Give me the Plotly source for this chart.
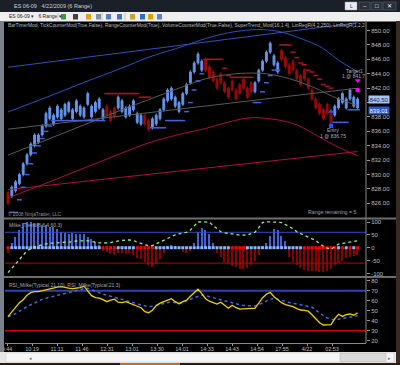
import plotly.graph_objects as go

W, H = 400, 365

# ---------------- data ----------------
opens = [827.5, 827.0, 827.75, 828.75, 830.0, 831.5, 832.75, 834.0, 834.5, 835.5,
         836.75, 837.75, 837.0, 838.0, 837.75, 838.25, 838.75, 837.75, 838.75, 838.25,
         838.0, 839.75, 838.0, 838.75, 839.25, 837.75, 839.5, 838.75, 839.25, 839.25,
         838.75, 838.0, 838.25, 839.0, 837.25, 837.0, 838.25, 837.5, 836.5, 837.0,
         837.75, 839.0, 840.25, 840.5, 839.5, 838.75, 839.75, 841.25, 842.75, 844.25,
         845.5, 844.5, 846.0, 845.0, 844.25, 843.25, 844.0, 842.75, 842.0, 843.0,
         841.75, 842.5, 843.25, 842.0, 842.75, 841.5, 843.0, 844.5, 845.75, 847.0,
         845.25, 844.25, 847.25, 846.25, 845.25, 845.75, 844.5, 843.75, 844.5, 843.25,
         841.75, 840.5, 839.75, 839.0, 839.75, 838.5, 838.25, 839.25, 840.0, 839.25,
         840.5, 839.5, 839.25]
highs = [827.75, 828.5, 829.25, 830.25, 831.75, 833.0, 834.5, 835.75, 835.75, 837.0,
         838.75, 839.5, 838.5, 839.75, 839.25, 840.0, 840.25, 839.25, 840.5, 839.75,
         839.5, 841.5, 839.75, 840.25, 840.75, 839.25, 839.75, 839.0, 839.5, 841.0,
         840.5, 839.5, 839.75, 840.5, 838.75, 838.5, 838.5, 837.75, 838.0, 838.5,
         839.25, 840.75, 842.0, 842.25, 841.0, 840.25, 841.5, 842.75, 844.5, 845.75,
         847.0, 846.0, 846.25, 845.25, 844.5, 843.5, 844.25, 843.0, 842.25, 843.25,
         842.0, 842.75, 843.5, 842.25, 843.0, 843.0, 844.75, 846.0, 847.25, 848.5,
         846.75, 845.75, 847.5, 846.5, 845.5, 846.0, 844.75, 844.0, 844.75, 843.5,
         842.0, 840.75, 840.0, 839.25, 840.0, 838.75, 839.75, 840.75, 841.5, 840.75,
         842.0, 841.0, 840.75]
lows = [825.75, 826.75, 827.5, 828.5, 829.75, 831.25, 832.5, 833.75, 834.25, 835.25,
        836.5, 837.5, 836.75, 837.75, 837.5, 838.0, 838.5, 837.5, 838.5, 838.0,
        837.75, 839.5, 837.75, 838.5, 839.0, 837.5, 838.0, 837.25, 837.75, 839.0,
        838.5, 837.75, 838.0, 838.75, 837.0, 836.75, 836.75, 836.0, 836.25, 836.75,
        837.5, 838.75, 840.0, 840.25, 839.25, 838.5, 839.5, 841.0, 842.5, 844.0,
        845.25, 844.25, 844.25, 843.25, 842.75, 841.75, 842.5, 841.25, 840.5, 841.5,
        840.25, 841.0, 841.75, 840.5, 841.25, 841.25, 842.75, 844.25, 845.5, 846.75,
        845.0, 844.0, 845.75, 844.75, 843.75, 844.25, 843.0, 842.25, 843.0, 841.75,
        840.25, 839.0, 838.25, 837.5, 838.25, 836.75, 838.0, 839.0, 839.75, 839.0,
        840.25, 839.25, 839.0]
closes = [826.0, 828.25, 829.0, 830.0, 831.5, 832.75, 834.25, 835.5, 835.5, 836.75,
          838.5, 839.25, 838.25, 839.5, 839.0, 839.75, 840.0, 839.0, 840.25, 839.5,
          839.25, 841.25, 839.5, 840.0, 840.5, 839.0, 838.25, 837.5, 838.0, 840.75,
          840.25, 839.25, 839.5, 840.25, 838.5, 838.25, 837.0, 836.25, 837.75, 838.25,
          839.0, 840.5, 841.75, 842.0, 840.75, 840.0, 841.25, 842.5, 844.25, 845.5,
          846.75, 845.75, 844.5, 843.5, 843.0, 842.0, 842.75, 841.5, 840.75, 841.75,
          840.5, 841.25, 842.0, 840.75, 841.5, 842.75, 844.5, 845.75, 847.0, 848.25,
          846.5, 845.5, 846.0, 845.0, 844.0, 844.5, 843.25, 842.5, 843.25, 842.0,
          840.5, 839.25, 838.5, 837.75, 838.5, 837.0, 839.5, 840.5, 841.25, 840.5,
          841.75, 840.75, 840.5]

N = len(closes)

# SuperTrend_Mod stops (blue = long stop under price, red = short stop over price)
st_long = [None, 824.75, 824.75, 826.5, 828.25, 830.0, 831.5, 833.0, 834.0, 835.0,
           836.0, 836.75, 837.5, 837.5, 837.5, 837.5, 837.5, 837.5, 837.5, 837.5,
           837.5, 837.5, 837.5, 837.5, 837.5, 837.5, None, None, None, None,
           None, None, None, None, None, None, None, None, 836.5, 836.5,
           836.5, 836.5, 837.5, 837.5, 837.5, 837.5, 837.5, 838.75, 840.0, 841.75,
           843.0, 844.0, None, None, None, None, None, None, None, None,
           None, None, None, None, None, 840.0, 840.0, 841.5, 842.75, 843.75,
           844.5, 844.5, None, None, None, None, None, None, None, None,
           None, None, None, None, None, None, 837.25, 837.25, 837.25, 837.25,
           839.0, 839.0, 839.0]
st_short = [None, None, None, None, None, None, None, None, None, None,
            None, None, None, None, None, None, None, None, None, None,
            None, None, None, None, None, None, 841.25, 841.25, 841.25, 841.25,
            841.25, 841.25, 841.25, 841.25, 841.25, 840.75, 840.75, 840.75, None, None,
            None, None, None, None, None, None, None, None, None, None,
            None, None, 846.0, 846.0, 846.0, 846.0, 846.0, 844.75, 843.75, 843.5,
            843.5, 843.5, 843.5, 843.5, 843.5, None, None, None, None, None,
            None, None, 848.0, 848.0, 848.0, 847.0, 846.25, 845.5, 845.25, 844.5,
            844.25, 843.75, 843.25, 842.5, 842.25, 842.0, None, None, None, None,
            None, None, None]

# LinRegR curves (sampled values)
reg_idx = [0, 10, 20, 30, 37, 46, 52, 58, 64, 68, 72, 76, 82, 84, 87, 92]
blue_arc = [838.7, 840.7, 842.8, 844.8, 846.3, 847.8, 848.9, 849.7, 850.1, 850.1, 849.8, 849.1, 847.8, 847.1, 845.9, 844.25]
gray_arc = [832.7, 834.8, 836.9, 839.0, 840.4, 842.2, 843.3, 843.9, 844.1, 844.0, 843.6, 843.0, 841.75, 841.2, 840.5, 839.6]
red_arc = [826.75, 828.8, 830.9, 833.0, 834.4, 835.7, 836.4, 837.3, 837.9, 837.8, 837.5, 836.9, 835.2, 834.6, 833.8, 832.6]
line_idx = [0, 92]
blue_line = [844.9, 851.1]
gray_line = [836.3, 842.0]
red_line = [827.9, 833.2]

# Milke_Trend
milke_hist = [-21, 19, 43, 69, 97, 101, 101, 95, 95, 88,
              88, 82, 80, 71, 62, 56, 53, 56, 53, 53,
              53, 43, 33, 23, 12, -12, -18, -26, -28, -22,
              -22, -24, -22, -28, -40, -45, -54, -67, -74, -62,
              -45, -20, 4, 10, 8, -5, -18, -20, -12, 18,
              60, 75, 70, 55, 19, -20, -35, -55, -65, -70,
              -76, -81, -83, -78, -68, -50, -28, 5, 17, 45,
              72, 70, 45, 25, -35, -55, -68, -80, -87, -90,
              -89, -90, -93, -93, -90, -81, -68, -58, -50, -41,
              -38, -34, -28]
milke_sig = [-97, -80, -62, -44, -28, -12, -4, 4, 8, 12,
             15, 18, 18, 19, 19, 19, 20, 23, 26, 27,
             27, 27, 24, 20, 19, 18, 18, 20, 24, 27,
             28, 30, 30, 28, 22, 16, 10, 7, 8, 15,
             23, 30, 38, 45, 50, 54, 56, 60, 69, 85,
             100, 101, 101, 99, 86, 72, 62, 58, 56, 54,
             50, 49, 49, 50, 55, 60, 78, 98, 101, 101,
             100, 99, 98, 90, 82, 74, 62, 55, 50, 44,
             37, 28, 15, 6, -2, -6, 5, 14, 17, 19,
             21, 24, 27]
milke_dot = [1, 0, 0, 0, 0, 0, 0, 0, 0, 0,
             0, 0, 0, 0, 0, 0, 0, 0, 0, 0,
             0, 0, 0, 0, 0, 1, 1, 1, 1, 0,
             0, 0, 0, 0, 1, 1, 1, 1, 1, 0,
             0, 0, 0, 0, 0, 0, 0, 0, 0, 0,
             0, 0, 0, 0, 0, 0, 0, 0, 0, 1,
             1, 1, 1, 0, 0, 0, 0, 0, 0, 0,
             0, 0, 0, 0, 0, 0, 0, 0, 1, 1,
             1, 1, 1, 1, 1, 1, 1, 0, 1, 0,
             1, 0, 1]

# RSI_Milke
rsi_fast = [44, 49, 53, 58, 61, 65.5, 68, 69, 69, 70,
            71, 72, 72.5, 73.5, 74, 73, 72.5, 72, 72.5, 73,
            74.5, 69.5, 65, 63, 62.5, 61, 59, 60.5, 61.5, 58.5,
            58, 59, 57.5, 55.5, 54.5, 53, 49, 48, 50.5, 55,
            57.5, 59, 60.5, 62, 59, 57, 59, 60.5, 64.5, 68.5,
            71.5, 67, 62, 59.5, 58, 56.7, 58.5, 55.5, 52.5, 55.5,
            53, 51.5, 52, 52.4, 52.4, 52.4, 58, 63, 66.5, 68.4,
            64, 60.5, 58, 56, 55, 54, 52, 50.7, 50.3, 49.5,
            46, 42, 38, 35.7, 35.5, 36, 42, 46.4, 44.3, 46,
            46.7, 45.5, 48]
rsi_slow = [44, 45.5, 47, 49.5, 52, 54, 56, 58, 60, 61.3,
            62.5, 63.5, 64.5, 65.5, 66.5, 67.5, 68.5, 69.5, 70.3, 71,
            72, 72.4, 71, 69, 67.5, 66.5, 65.5, 64.5, 63.5, 62.3,
            61.3, 60.3, 59.5, 58.5, 57, 55.7, 54.5, 54, 54.5, 55.5,
            56.5, 57.5, 58.5, 59, 58, 57, 58, 60, 61.5, 63,
            64.5, 65.5, 65, 64, 63, 62, 61, 59.5, 58.5, 57.5,
            56.7, 56, 55.3, 55, 54.8, 54.7, 56, 58, 59.5, 61.5,
            62.4, 61.6, 60.7, 59.5, 58.3, 57.4, 56.7, 56, 55.2, 54.5,
            53.5, 50.5, 47.5, 45, 42.8, 41.3, 40.8, 41.5, 42, 42.5,
            43.5, 44.3, 45]

time_labels = ["9:44", "10:19", "11:11", "11:46", "12:31", "13:01", "13:30",
               "14:01", "14:33", "14:43", "14:54", "17:55", "4/22", "02:53"]
price_ticks = [826, 828, 830, 832, 834, 836, 838, 840, 842, 844, 846, 848, 850]
milke_ticks = [-100, -50, 0, 50, 100]
rsi_ticks = [20, 30, 40, 50, 60, 70, 80]

last_price = 840.50
stop_price = 839.01
entry_price = 836.75
target_price = 841.75

# ---------------- helpers ----------------
def px(x):
    return x / W


def py(y):
    return 1 - y / H


BAR0, STEP = 8.0, 3.8          # pixel of first bar, pixel per bar
def bx(xpix):
    return (xpix - BAR0) / STEP

xr = [bx(5), bx(366)]
x = list(range(N))
FONT = "Liberation Sans"
TXT = "#BEBEBE"

fig = go.Figure()

# ---- main panel ----
for idx, vals, col in [(line_idx, blue_line, "#2E4FC0"), (reg_idx, blue_arc, "#2E4FC0"),
                       (line_idx, gray_line, "#5A5A5A"), (reg_idx, gray_arc, "#5A5A5A"),
                       (line_idx, red_line, "#B0103C"), (reg_idx, red_arc, "#B0103C")]:
    fig.add_trace(go.Scatter(x=idx, y=vals, mode="lines", line=dict(color=col, width=1, shape="spline"),
                             xaxis="x", yaxis="y", hoverinfo="skip"))

fig.add_trace(go.Scatter(x=x, y=st_long, mode="markers", xaxis="x", yaxis="y",
                         marker=dict(symbol="line-ew", size=3.5, line=dict(color="#3F63D8", width=1.5))))
fig.add_trace(go.Scatter(x=x, y=st_short, mode="markers", xaxis="x", yaxis="y",
                         marker=dict(symbol="line-ew", size=3.5, line=dict(color="#B0102A", width=1.5))))

fig.add_trace(go.Candlestick(x=x, open=opens, high=highs, low=lows, close=closes,
                             xaxis="x", yaxis="y", whiskerwidth=0,
                             increasing=dict(line=dict(color="#6495ED", width=1), fillcolor="#6495ED"),
                             decreasing=dict(line=dict(color="#9A0A0A", width=1), fillcolor="#9A0A0A")))

# entry / target markers
fig.add_trace(go.Scatter(x=[N - 1], y=[target_price], mode="markers", xaxis="x", yaxis="y",
                         marker=dict(symbol="square", size=4, color="#FF00FF")))
fig.add_trace(go.Scatter(x=[N - 1], y=[target_price + 1.3], mode="markers", xaxis="x", yaxis="y",
                         marker=dict(symbol="triangle-down", size=5, color="#FF00FF")))
fig.add_trace(go.Scatter(x=[N - 8], y=[entry_price], mode="markers", xaxis="x", yaxis="y",
                         marker=dict(symbol="square", size=4, color="#3050FF")))
fig.add_trace(go.Scatter(x=[N - 8], y=[entry_price + 2.0], mode="markers", xaxis="x", yaxis="y",
                         marker=dict(symbol="triangle-up", size=5, color="#3050FF")))

# ---- Milke panel ----
fig.add_trace(go.Bar(x=x, y=milke_hist, xaxis="x2", yaxis="y2", width=0.4,
                     marker=dict(color=["#3F63D8" if v >= 0 else "#8B0000" for v in milke_hist], line=dict(width=0))))
fig.add_trace(go.Scatter(x=[xr[0], xr[1]], y=[60, 60], mode="lines", xaxis="x2", yaxis="y2",
                         line=dict(color="#2F4FC8", width=1)))
fig.add_trace(go.Scatter(x=[xr[0], xr[1]], y=[-60, -60], mode="lines", xaxis="x2", yaxis="y2",
                         line=dict(color="#C00000", width=1)))
fig.add_trace(go.Scatter(x=x, y=[0] * N, mode="markers", xaxis="x2", yaxis="y2",
                         marker=dict(symbol="square", size=3,
                                     color=["#FF0000" if d else "#8DB4FF" for d in milke_dot])))
fig.add_trace(go.Scatter(x=x, y=milke_sig, mode="lines", xaxis="x2", yaxis="y2",
                         line=dict(color="#90EE90", width=1.3, dash="dot")))

# ---- RSI panel ----
fig.add_trace(go.Scatter(x=[xr[0], xr[1]], y=[70, 70], mode="lines", xaxis="x3", yaxis="y3",
                         line=dict(color="#2A45B0", width=2)))
fig.add_trace(go.Scatter(x=[xr[0], xr[1]], y=[30, 30], mode="lines", xaxis="x3", yaxis="y3",
                         line=dict(color="#D00000", width=1.5)))
fig.add_trace(go.Scatter(x=x, y=rsi_slow, mode="lines", xaxis="x3", yaxis="y3",
                         line=dict(color="#4169E1", width=1.5, dash="dot")))
fig.add_trace(go.Scatter(x=x, y=rsi_fast, mode="lines", xaxis="x3", yaxis="y3",
                         line=dict(color="#F0D000", width=1.3)))

tick_step = 25 / STEP
tickvals = [bx(7) + k * tick_step for k in range(len(time_labels))]

axfont = dict(family=FONT, size=6, color=TXT)
common_y = dict(side="right", showgrid=False, zeroline=False, showline=False, ticks="outside",
                ticklen=3, tickcolor="#9A9A9A", tickfont=axfont, automargin=False, fixedrange=True)
common_x = dict(showgrid=False, zeroline=False, range=xr, domain=[px(5), px(366)], automargin=False)

fig.update_layout(
    width=W, height=H, margin=dict(l=0, r=0, t=0, b=0),
    paper_bgcolor="#000000", plot_bgcolor="#000000", showlegend=False,
    bargap=0,
    xaxis=dict(**common_x, anchor="y", showticklabels=False, rangeslider=dict(visible=False)),
    xaxis2=dict(**common_x, anchor="y2", showticklabels=False, matches="x"),
    xaxis3=dict(**common_x, anchor="y3", matches="x", tickvals=tickvals, ticktext=time_labels,
                ticks="outside", ticklen=2, tickcolor="#9A9A9A", ticklabelstandoff=-2,
                tickfont=dict(family=FONT, size=5.5, color=TXT),
                showline=True, linecolor="#8A8A8A", linewidth=1),
    yaxis=dict(**common_y, domain=[py(218), py(22)], range=[823.97, 851.19], anchor="x",
               tickvals=price_ticks, ticktext=["" if v == 840 else "%.2f" % v for v in price_ticks]),
    yaxis2=dict(**common_y, domain=[py(276), py(220)], range=[-110.1, 107.8], anchor="x2",
                tickvals=milke_ticks, ticktext=[str(v) for v in milke_ticks]),
    yaxis3=dict(**common_y, domain=[py(343), py(278)], range=[17.7, 82.7], anchor="x3",
                tickvals=rsi_ticks, ticktext=[str(v) for v in rsi_ticks]),
)

shapes = []
def rect(x0, y0, x1, y1, fill, line=None, lw=0):
    shapes.append(dict(type="rect", xref="paper", yref="paper", x0=px(x0), x1=px(x1), y0=py(y1), y1=py(y0),
                       fillcolor=fill, line=dict(color=line or fill, width=lw), layer="above"))

def hline(x0, x1, y, col, w=1):
    shapes.append(dict(type="line", xref="paper", yref="paper", x0=px(x0), x1=px(x1), y0=py(y), y1=py(y),
                       line=dict(color=col, width=w), layer="above"))

def vline(x, y0, y1, col, w=1):
    shapes.append(dict(type="line", xref="paper", yref="paper", x0=px(x), x1=px(x), y0=py(y0), y1=py(y1),
                       line=dict(color=col, width=w), layer="above"))

# chart frame lines
vline(366, 22, 343, "#8A8A8A")
hline(4, 396, 218.5, "#6E6E6E", 2)
hline(4, 396, 277, "#6E6E6E", 2)

# window chrome
rect(0, 0, 400, 12, "#1B1F27")
rect(0, 12, 400, 21.5, "#EEEEEE")
rect(0, 21, 4, 365, "#7A808C")
rect(396, 21, 400, 365, "#3A2A20")
rect(0, 352, 396, 363, "#E6E6E6")
rect(6, 353, 394, 362, "#F6F6F6", "#C8C8C8", 0.5)
rect(340, 353.5, 386, 361.5, "#DADADA", "#B0B0B0", 0.5)
rect(0, 363, 400, 365, "#2A1A10")
rect(120, 363, 180, 365, "#C07020")
# title bar buttons
rect(345, 2, 357, 10, "#E8ECF2", "#9AA4B0", 0.5)
rect(359, 2, 370, 10, "#2A303A", "#606874", 0.5)
rect(371, 2, 382, 10, "#2A303A", "#606874", 0.5)
rect(383, 2, 396, 10, "#2A303A", "#606874", 0.5)
# toolbar icons
for xx, col in [(61, "#3A9A3A"), (73, "#404040"), (86, "#E0A020"), (96, "#8090A0"), (106, "#5080C0"),
                (117, "#4070D0"), (130, "#D0A030"), (140, "#3070C0"), (148, "#E0A000"), (157, "#6080C0")]:
    rect(xx, 14, xx + 5, 19.5, col)
vline(58, 13, 20.5, "#B0B0B0", 0.7)
vline(102, 13, 20.5, "#B0B0B0", 0.7)
vline(125, 13, 20.5, "#B0B0B0", 0.7)

fig.update_layout(shapes=shapes)

ann = []
def text(xp, yp, s, size=5, color=TXT, anchor="left", bg=None, fcolor=None):
    d = dict(xref="paper", yref="paper", x=px(xp), y=py(yp), text=s, showarrow=False,
             xanchor=anchor, yanchor="middle", font=dict(family=FONT, size=size, color=fcolor or color))
    if bg:
        d.update(bgcolor=bg, borderpad=0.5)
    ann.append(d)

text(12, 6, "ES 06-09   4/22/2009 (6 Range)", 5.5, "#D0D0D0")
text(7, 16.5, "ES 06-09 ▾   6 Range ▾", 5, "#202020")
text(351, 6, "L", 5, "#303030", "center")
text(365, 6, "–", 6, "#FFFFFF", "center")
text(376.5, 6, "□", 6, "#FFFFFF", "center")
text(389.5, 6, "✕", 6, "#FFFFFF", "center")
text(6, 25.5, "BarTimerMod, TickCounterMod(True,False), RangeCounterMod(True), VolumeCounterMod(True,False), "
              "SuperTrend_Mod(16,1.4), LinRegR(4,2,250), LinRegR(1,2,2", 4.9)
text(6, 214, "© 2008 NinjaTrader, LLC", 4.8, "#909090")
text(358, 212, "Range remaining = 5", 5.2, "#A0A0A0", "right")
text(365, 71, "Target1", 5, "#B0B0B0", "right")
text(367, 76.5, "1 @ 841.7", 5, "#B0B0B0", "right")
text(333, 130.5, "Entry", 5, "#B0B0B0", "center")
text(333, 136, "1 @ 836.75", 5, "#B0B0B0", "center")
text(368, 99, "%.2f" % last_price, 6, bg="#A8C4F0", fcolor="#10205A")
text(368, 110, "%.2f" % stop_price, 6, bg="#2A5AD0", fcolor="#FFFFFF")
text(7, 225, "Milke_Trend(8,6,4,60,3)", 5, "#A8A8A8")
text(7, 284.5, "RSI_Milke(Typical,21,10), RSI_Milke(Typical,21,3)", 5, "#A8A8A8")
text(30, 357.5, "◂", 5, "#707070", "center")
text(389, 357.5, "▸", 5, "#707070", "center")
fig.update_layout(annotations=ann)

fig.write_html("out.html")
